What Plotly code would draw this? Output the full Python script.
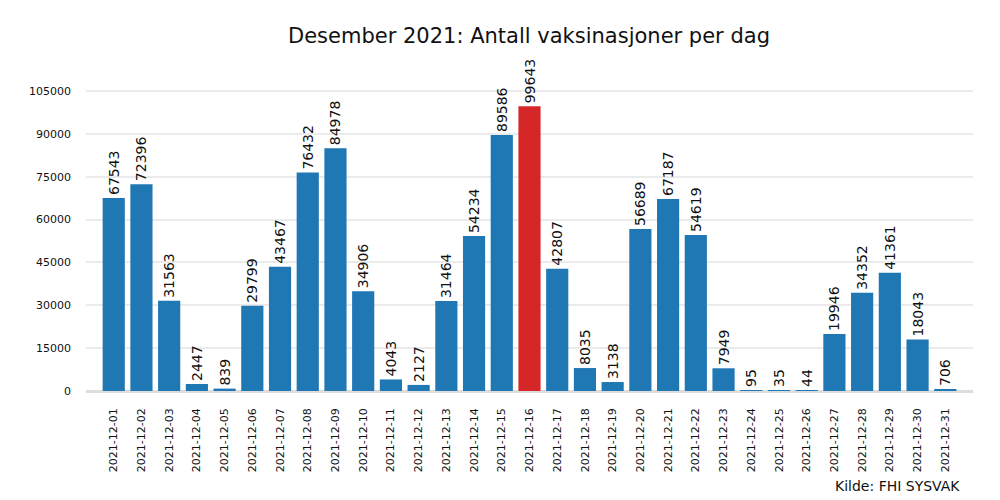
import plotly.graph_objects as go

# vaksinasjoner per dag, desember 2021
dates = [f"2021-12-{d:02d}" for d in range(1, 32)]
doses = [67543, 72396, 31563, 2447, 839, 29799, 43467, 76432, 84978, 34906,
         4043, 2127, 31464, 54234, 89586, 99643, 42807, 8035, 3138, 56689,
         67187, 54619, 7949, 95, 35, 44, 19946, 34352, 41361, 18043, 706]
y_ticks = [0, 15000, 30000, 45000, 60000, 75000, 90000, 105000]

top = max(doses)
colors = ["#d62728" if v == top else "#1f77b4" for v in doses]

fig = go.Figure(go.Bar(
    x=dates, y=doses,
    marker=dict(color=colors, line=dict(width=0)),
    width=0.8,
    text=[str(v) for v in doses],
    textposition="outside",
    textangle=-90,
    cliponaxis=False,
    textfont=dict(size=14, color="#111111"),
))

# page body has an 8px margin, so the margins are pulled in by 8px
fig.update_layout(
    width=1000, height=500,
    plot_bgcolor="white", paper_bgcolor="white",
    font=dict(family="DejaVu Sans", color="#111111"),
    margin=dict(l=78, r=35, t=52, b=117),
    showlegend=False,
    uniformtext=dict(minsize=14, mode="show"),
    title=dict(text="Desember 2021: Antall vaksinasjoner per dag",
               x=0.521, xanchor="center", y=0.944, yanchor="middle",
               font=dict(size=21, color="#111111")),
    annotations=[dict(text="Kilde: FHI SYSVAK", xref="paper", yref="paper",
                      x=1.0, y=-0.287, xanchor="right", yanchor="middle",
                      xshift=-11, showarrow=False,
                      font=dict(size=14, color="#111111"))],
)
fig.update_xaxes(
    type="category", range=[-1.0, 31.0], automargin=False,
    tickangle=-90, tickfont=dict(size=11),
    showgrid=False, ticks="", ticklabelstandoff=14,
)
fig.update_yaxes(
    range=[0, 115850], tickvals=y_ticks, tickformat="d", automargin=False,
    tickfont=dict(size=11), ticks="", ticklabelstandoff=14,
    showgrid=True, gridcolor="#ebebeb", gridwidth=2,
    zeroline=True, zerolinecolor="#dddddd", zerolinewidth=3,
)

fig.write_html("out.html")
